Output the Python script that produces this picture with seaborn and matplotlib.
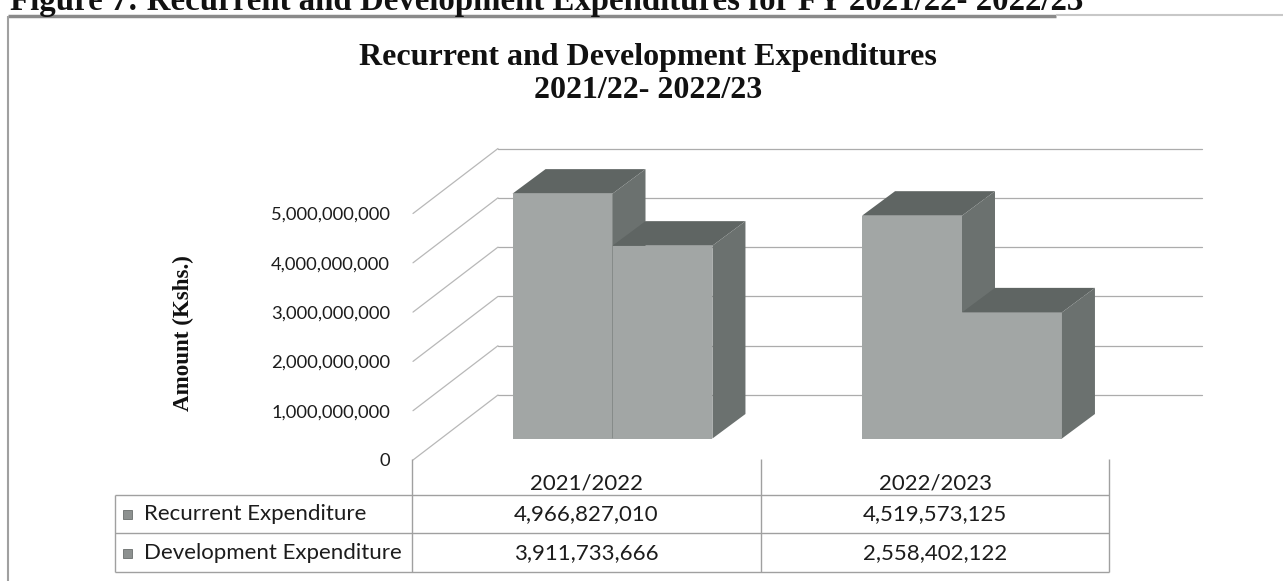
import numpy as np
import pandas as pd
import matplotlib
matplotlib.use('Agg')
import matplotlib.pyplot as plt
import seaborn as sns
from matplotlib.transforms import ScaledTranslation, offset_copy
from matplotlib.patches import Polygon, Rectangle
from matplotlib.lines import Line2D

# ---------------- data ----------------
years = ['2021/2022', '2022/2023']
series = ['Recurrent Expenditure', 'Development Expenditure']
recurrent = [4966827010, 4519573125]
development = [3911733666, 2558402122]
y_ticks = [0, 1e9, 2e9, 3e9, 4e9, 5e9]
title_lines = ['Recurrent and Development Expenditures', '2021/22- 2022/23']
caption = 'Figure 7: Recurrent and Development Expenditures for FY 2021/22- 2022/23'
y_label = 'Amount (Kshs.)'

df = pd.DataFrame({
    'year': years * 2,
    'series': [series[0]] * len(years) + [series[1]] * len(years),
    'value': recurrent + development,
})

# ---------------- figure ----------------
W, H, DPI = 1283, 581, 100
sns.set_theme(style='white')
plt.rcParams['font.family'] = ['Lato', 'DejaVu Sans']
SERIF = ['Liberation Serif', 'DejaVu Serif']

fig = plt.figure(figsize=(W / DPI, H / DPI), dpi=DPI)
fig.patch.set_facecolor('white')


def fx(px):
    return px / W


def fy(py):
    return 1 - py / H


ax_left, ax_right = 441, 1145
ax_bottom, ax_top = 438.5, 192
ax = fig.add_axes([fx(ax_left), fy(ax_bottom), (ax_right - ax_left) / W, (ax_bottom - ax_top) / H])
ax.set_facecolor('none')

FRONT = '#a2a6a5'
SIDE = '#6b716f'
TOP = '#5f6563'
GRID = '#acacac'
TXT = '#1c1c1c'

sns.barplot(data=df, x='year', y='value', hue='series', hue_order=series, order=years,
            palette=[FRONT, FRONT], width=0.572, saturation=1, legend=False,
            errorbar=None, linewidth=0, ax=ax)

slot = (ax_right - ax_left)
cat_gap_px = 349.5
xmin = -(612.5 - ax_left) / cat_gap_px
xmax = xmin + slot / cat_gap_px
ax.set_xlim(xmin, xmax)
ax.set_ylim(0, max(y_ticks))
ax.set_autoscale_on(False)

BAR_D = (33, 24.5)         # bar depth (px, up positive)
BACK = (57, 43.5)          # back wall offset from bar plane
FRONT_WALL = (-28, -21.5)  # front edge of the left wall


def shifted(x, y, dx, dy):
    px, py = ax.transData.transform((x, y))
    return tuple(ax.transData.inverted().transform((px + dx, py + dy)))


# walls / gridlines
back_tr = offset_copy(ax.transData, fig=fig, x=BACK[0], y=BACK[1], units='dots')
for v in y_ticks:
    ax.plot([xmin, xmax], [v, v], transform=back_tr, color=GRID, lw=0.9,
            clip_on=False, zorder=1)
    p1 = shifted(xmin, v, *FRONT_WALL)
    p2 = shifted(xmin, v, *BACK)
    ax.plot([p1[0], p2[0]], [p1[1], p2[1]], color='#b8b8b8', lw=0.9,
            clip_on=False, zorder=1)

# 3-D faces of bars
bars = sorted([p for p in ax.patches if isinstance(p, Rectangle) and p.get_height() > 0],
              key=lambda p: p.get_x())
for i, p in enumerate(bars):
    x0, w, h = p.get_x(), p.get_width(), p.get_height()
    z = 3 + i
    p.set_zorder(z)
    p.set_clip_on(False)
    top = [(x0, h), (x0 + w, h), shifted(x0 + w, h, *BAR_D), shifted(x0, h, *BAR_D)]
    side = [(x0 + w, 0), (x0 + w, h), shifted(x0 + w, h, *BAR_D), shifted(x0 + w, 0, *BAR_D)]
    ax.add_patch(Polygon(top, closed=True, fc=TOP, ec='none', zorder=z, clip_on=False))
    ax.add_patch(Polygon(side, closed=True, fc=SIDE, ec='none', zorder=z, clip_on=False))

# y ticks on the front edge of the left wall
ax.set_yticks(y_ticks)
ax.set_yticklabels([f'{int(v):,}' for v in y_ticks])
ax.tick_params(axis='y', length=0, pad=16.6, labelsize=13.2, labelcolor=TXT)
shift = ScaledTranslation(FRONT_WALL[0] / DPI, FRONT_WALL[1] / DPI, fig.dpi_scale_trans)
for lab in ax.get_yticklabels():
    lab.set_transform(lab.get_transform() + shift)
ax.set_xticks([])
ax.set_xlabel('')
ax.set_ylabel('')
for s in ax.spines.values():
    s.set_visible(False)

# titles
fig.text(fx(10), fy(10), caption, ha='left', va='baseline', family=SERIF,
         weight='bold', size=23.7, color='#111111')
fig.text(fx(648), fy(57), title_lines[0], ha='center', va='center', family=SERIF,
         weight='bold', size=23, color='#111111')
fig.text(fx(648), fy(90), title_lines[1], ha='center', va='center', family=SERIF,
         weight='bold', size=23, color='#111111')
fig.text(fx(183), fy(333), y_label, ha='center', va='center', rotation=90, family=SERIF,
         weight='bold', size=16.6, color='#111111')


# frame lines
def fline(x1, y1, x2, y2, color, lw):
    fig.add_artist(Line2D([fx(x1), fx(x2)], [fy(y1), fy(y2)], transform=fig.transFigure,
                          color=color, lw=lw, solid_capstyle='butt'))


fline(8, 15.5, 1056, 15.5, '#8a8a8a', 2.5)
fline(1056, 14.5, 1283, 14.5, '#c8c8c8', 1.5)
fline(8, 16, 8, 581, '#a0a0a0', 1.5)

# data table
TL = '#a0a0a0'
t_left, c1, c2, t_right = 115, 412, 761, 1109
r_head, r1, r2, r3 = 459, 495, 533, 572
fline(t_left, r1, t_right, r1, TL, 1)
fline(t_left, r2, t_right, r2, TL, 1)
fline(t_left, r3, t_right, r3, TL, 1)
fline(t_left, r1, t_left, r3, TL, 1)
for xv in (c1, c2, t_right):
    fline(xv, r_head, xv, r3, TL, 1)

col_centers = [(c1 + c2) / 2, (c2 + t_right) / 2]
for cx, yr in zip(col_centers, years):
    fig.text(fx(cx), fy(483), yr, ha='center', va='center', size=16, color=TXT)
row_centers = [514, 553]
for ry, name, vals in zip(row_centers, series, [recurrent, development]):
    fig.add_artist(Rectangle((fx(123), fy(ry + 4.5)), 9 / W, 9 / H, transform=fig.transFigure,
                             fc='#8d9190', ec='#6a6e6d', lw=0.6))
    fig.text(fx(144), fy(ry), name, ha='left', va='center', size=16, color=TXT)
    for cx, v in zip(col_centers, vals):
        fig.text(fx(cx), fy(ry), f'{v:,}', ha='center', va='center', size=16, color=TXT)

fig.savefig('out.png', dpi=DPI, facecolor='white')
